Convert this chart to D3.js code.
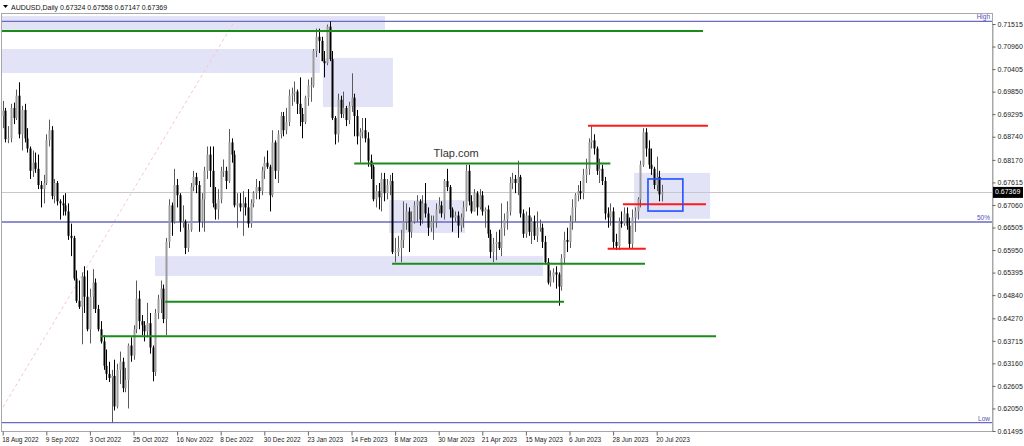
<!DOCTYPE html>
<html><head><meta charset="utf-8">
<script src="https://cdn.jsdelivr.net/npm/d3@7"></script>
<style>
html,body{margin:0;padding:0;background:#fff;overflow:hidden}
svg{display:block}
text{font-family:"Liberation Sans",Arial,sans-serif}
</style>
</head><body><svg id="c" width="1024" height="446"></svg>
<script>
// ---- data (AUDUSD daily, bar index 0 = 18 Aug 2022) ----
const symbolTitle = "AUDUSD,Daily";
const opens=[.6925,.6938,.6868,.6870,.6945,.6920,.6975,.6880,.6940,.6870,
.6845,.6790,.6810,.6795,.6755,.6745,.6760,.6865,.6890,.6728,
.6760,.6715,.6710,.6705,.6690,.6630,.6625,.6525,.6470,.6455,
.6530,.6480,.6400,.6480,.6515,.6450,.6400,.6370,.6310,.6290,
.6280,.6285,.6210,.6300,.6320,.6255,.6275,.6360,.6335,.6400,
.6475,.6420,.6410,.6395,.6415,.6355,.6295,.6440,.6475,.6500,
.6425,.6615,.6705,.6665,.6755,.6730,.6665,.6665,.6600,.6645,
.6750,.6775,.6755,.6665,.6720,.6790,.6830,.6790,.6710,.6695,
.6720,.6790,.6790,.6765,.6860,.6830,.6705,.6710,.6700,.6710,
.6700,.6660,.6710,.6735,.6750,.6740,.6790,.6810,.6800,.6730,
.6860,.6790,.6880,.6925,.6890,.6910,.6975,.6980,.6985,.6955,
.6930,.6910,.6970,.7000,.7000,.7085,.7120,.7110,.7060,.7055,
.7145,.7065,.6920,.6880,.6965,.6930,.6945,.6915,.6950,.6970,
.6925,.6875,.6885,.6890,.6870,.6815,.6800,.6720,.6740,.6725,
.6770,.6735,.6755,.6765,.6590,.6590,.6600,.6620,.6665,.6690,
.6640,.6665,.6705,.6715,.6670,.6710,.6685,.6650,.6665,.6665,
.6695,.6705,.6685,.6765,.6750,.6695,.6675,.6680,.6655,.6675,
.6700,.6790,.6715,.6690,.6735,.6700,.6730,.6690,.6695,.6635,
.6590,.6610,.6615,.6600,.6650,.6670,.6690,.6760,.6770,.6760,
.6775,.6685,.6635,.6680,.6640,.6665,.6630,.6650,.6650,.6615,
.6565,.6515,.6530,.6540,.6535,.6505,.6575,.6620,.6615,.6665,
.6700,.6730,.6740,.6735,.6780,.6795,.6860,.6865,.6845,.6790,
.6795,.6765,.6685,.6675,.6690,.6615,.6605,.6665,.6660,.6685,
.6655,.6610,.6675,.6690,.6720,.6805,.6885,.6845,.6805,.6795,
.6755,.6775,.67324];
const highs=[.6962,.6945,.6900,.6955,.6958,.6990,.7008,.6950,.6955,.6895,
.6850,.6840,.6835,.6830,.6765,.6780,.6880,.6916,.6900,.6770,
.6765,.6720,.6730,.6735,.6710,.6660,.6630,.6545,.6520,.6540,
.6555,.6545,.6500,.6548,.6525,.6460,.6420,.6385,.6350,.6320,
.6300,.6325,.6315,.6345,.6330,.6305,.6365,.6380,.6410,.6520,
.6495,.6435,.6420,.6465,.6440,.6360,.6450,.6485,.6520,.6510,
.6625,.6720,.6712,.6795,.6770,.6735,.6705,.6670,.6660,.6760,
.6790,.6785,.6765,.6735,.6800,.6850,.6850,.6850,.6750,.6745,
.6800,.6818,.6800,.6893,.6870,.6840,.6735,.6735,.6740,.6725,
.6745,.6720,.6740,.6770,.6765,.6800,.6825,.6840,.6805,.6890,
.6865,.6890,.6935,.6935,.6945,.6990,.6995,.7010,.6990,.7020,
.6945,.6975,.7015,.7020,.7090,.7140,.7140,.7120,.7085,.7150,
.7158,.7085,.6925,.6980,.6975,.6985,.6950,.6960,.7030,.6980,
.6940,.6895,.6920,.6920,.6885,.6830,.6805,.6755,.6760,.6785,
.6785,.6770,.6780,.6785,.6625,.6630,.6645,.6715,.6710,.6700,
.6690,.6715,.6730,.6720,.6730,.6760,.6700,.6680,.6680,.6710,
.6725,.6715,.6770,.6795,.6755,.6700,.6690,.6690,.6685,.6715,
.6805,.6805,.6730,.6745,.6740,.6745,.6740,.6700,.6705,.6645,
.6625,.6640,.6645,.6710,.6685,.6715,.6775,.6785,.6780,.6815,
.6780,.6695,.6690,.6700,.6675,.6680,.6690,.6670,.6660,.6630,
.6575,.6545,.6550,.6555,.6540,.6585,.6640,.6650,.6680,.6720,
.6735,.6755,.6765,.6795,.6820,.6870,.6900,.6880,.6850,.6820,
.6805,.6775,.6700,.6710,.6700,.6635,.6675,.6690,.6700,.6700,
.6675,.6695,.6700,.6725,.6815,.6895,.6895,.6865,.6845,.6800,
.6825,.6790,.67558];
const lows=[.6895,.6860,.6858,.6860,.6905,.6915,.6870,.6840,.6860,.6835,
.6770,.6775,.6785,.6745,.6700,.6710,.6755,.6850,.6720,.6710,
.6705,.6670,.6680,.6680,.6620,.6580,.6520,.6465,.6450,.6363,
.6440,.6395,.6365,.6450,.6440,.6395,.6365,.6300,.6275,.6270,
.6170,.6200,.6205,.6265,.6245,.6245,.6205,.6320,.6325,.6390,
.6400,.6385,.6370,.6380,.6340,.6272,.6285,.6425,.6440,.6415,
.6385,.6600,.6630,.6660,.6700,.6640,.6650,.6585,.6590,.6640,
.6740,.6735,.6640,.6650,.6640,.6770,.6750,.6700,.6670,.6670,
.6710,.6775,.6745,.6760,.6810,.6700,.6650,.6690,.6630,.6680,
.6650,.6650,.6700,.6720,.6720,.6730,.6770,.6795,.6690,.6725,
.6770,.6760,.6870,.6875,.6880,.6900,.6950,.6960,.6930,.6900,
.6870,.6905,.6950,.6960,.6995,.7070,.7080,.7060,.7020,.7050,
.7060,.6915,.6855,.6860,.6920,.6920,.6900,.6905,.6935,.6875,
.6855,.6810,.6870,.6860,.6800,.6770,.6715,.6700,.6695,.6690,
.6715,.6720,.6730,.6585,.6565,.6580,.6565,.6600,.6645,.6590,
.6625,.6660,.6665,.6655,.6660,.6675,.6630,.6640,.6620,.6650,
.6685,.6675,.6670,.6740,.6675,.6640,.6665,.6625,.6640,.6650,
.6690,.6705,.6685,.6690,.6680,.6695,.6680,.6650,.6625,.6575,
.6565,.6570,.6595,.6580,.6630,.6645,.6680,.6745,.6735,.6730,
.6675,.6625,.6625,.6630,.6610,.6620,.6615,.6640,.6600,.6560,
.6510,.6505,.6515,.6500,.6458,.6495,.6560,.6590,.6600,.6645,
.6665,.6715,.6720,.6720,.6760,.6780,.6845,.6830,.6780,.6760,
.6755,.6670,.6650,.6655,.6600,.6595,.6595,.6650,.6655,.6645,
.6600,.6600,.6640,.6670,.6700,.6800,.6825,.6795,.6780,.6745,
.6740,.6715,.67147];
const closes=[.6938,.6868,.6870,.6945,.6920,.6975,.6880,.6940,.6870,.6845,
.6790,.6810,.6795,.6755,.6745,.6760,.6865,.6890,.6728,.6760,
.6715,.6710,.6705,.6690,.6630,.6625,.6525,.6470,.6455,.6530,
.6480,.6400,.6480,.6515,.6450,.6400,.6370,.6310,.6290,.6280,
.6285,.6210,.6300,.6320,.6255,.6275,.6360,.6335,.6400,.6475,
.6420,.6410,.6395,.6415,.6355,.6295,.6440,.6475,.6500,.6425,
.6615,.6705,.6665,.6755,.6730,.6665,.6665,.6600,.6645,.6750,
.6775,.6755,.6665,.6720,.6790,.6830,.6790,.6710,.6695,.6720,
.6790,.6790,.6765,.6860,.6830,.6705,.6710,.6700,.6710,.6700,
.6660,.6710,.6735,.6750,.6740,.6790,.6810,.6800,.6730,.6860,
.6790,.6880,.6925,.6890,.6910,.6975,.6980,.6985,.6955,.6930,
.6910,.6970,.7000,.7000,.7085,.7120,.7110,.7060,.7055,.7145,
.7065,.6920,.6880,.6965,.6930,.6945,.6915,.6950,.6970,.6925,
.6875,.6885,.6890,.6870,.6815,.6800,.6720,.6740,.6725,.6770,
.6735,.6755,.6765,.6590,.6590,.6600,.6620,.6665,.6690,.6640,
.6665,.6705,.6715,.6670,.6710,.6685,.6650,.6665,.6665,.6695,
.6705,.6685,.6765,.6750,.6695,.6675,.6680,.6655,.6675,.6700,
.6790,.6715,.6690,.6735,.6700,.6730,.6690,.6695,.6635,.6590,
.6610,.6615,.6600,.6650,.6670,.6690,.6760,.6770,.6760,.6775,
.6685,.6635,.6680,.6640,.6665,.6630,.6650,.6650,.6615,.6565,
.6515,.6530,.6540,.6535,.6505,.6575,.6620,.6615,.6665,.6700,
.6730,.6740,.6735,.6780,.6795,.6860,.6865,.6845,.6790,.6795,
.6765,.6685,.6675,.6690,.6615,.6605,.6665,.6660,.6685,.6655,
.6610,.6675,.6690,.6720,.6805,.6885,.6845,.6805,.6795,.6755,
.6775,.6732,.67369];
const lastOHLC=[0.67324,0.67558,0.67147,0.67369];

const priceTicks=[0.71515,0.70960,0.70405,0.69850,0.69295,0.68740,0.68170,0.67615,0.67060,0.66505,0.65950,0.65395,0.64840,0.64270,0.63715,0.63160,0.62605,0.62050,0.61495];
const timeTickIdx=[0,16,32,48,64,80,96,112,128,144,160,176,192,208,224,240];
const timeTickLabels=["18 Aug 2022","9 Sep 2022","3 Oct 2022","25 Oct 2022","16 Nov 2022","8 Dec 2022","30 Dec 2022","23 Jan 2023","14 Feb 2023","8 Mar 2023","30 Mar 2023","21 Apr 2023","15 May 2023","6 Jun 2023","28 Jun 2023","20 Jul 2023"];

// drawn objects (bar index, price)
const fiboLevels=[{name:"High",p:0.7158},{name:"50%",p:0.6664},{name:"Low",p:0.6170}];
const zoneRects=[{i0:-2,i1:140.3,p0:0.7171,p1:0.7137},{i0:-2,i1:116.4,p0:0.7090,p1:0.7031},{i0:117.5,i1:143.2,p0:0.7068,p1:0.6947},{i0:141.8,i1:169.7,p0:0.6718,p1:0.6637},{i0:55.9,i1:198.3,p0:0.6580,p1:0.6531},{i0:231.7,i1:259.6,p0:0.6785,p1:0.6672}];
const blueBox={i0:236.8,i1:249.6,p0:0.6770,p1:0.6691};
const greenLines=[{i0:-2,i1:257,p:0.7134},{i0:129,i1:223,p:0.6808},{i0:142.9,i1:235.7,p:0.6561},{i0:59.6,i1:206,p:0.6468},{i0:36,i1:261.8,p:0.6383}];
const redLines=[{i0:214.8,i1:258.8,p:0.6901},{i0:227.6,i1:258.1,p:0.6708},{i0:222,i1:236,p:0.6598}];
const fiboTrend={i0:-1,p0:0.6196,i1:85.2,p1:0.7160};
const watermark={text:"Tlap.com",i:166.4,p:0.6832};

// ---- layout ----
const svg=d3.select("#c");
const L=1,R=992,T=13,B=431;
const x=d3.scaleLinear().domain([0,240]).range([2.7,656.7]);
const y=d3.scaleLinear().domain([0.61495,0.71515]).range([431,24]);

svg.append("defs").append("clipPath").attr("id","clip").append("rect")
  .attr("x",L).attr("y",T).attr("width",R-L).attr("height",B-T);
const plot=svg.append("g").attr("clip-path","url(#clip)");

// background zones
plot.selectAll("rect.zone").data(zoneRects).join("rect").attr("class","zone")
  .attr("x",d=>x(d.i0)).attr("width",d=>x(d.i1)-x(d.i0))
  .attr("y",d=>y(d.p0)).attr("height",d=>y(d.p1)-y(d.p0))
  .attr("fill","#e3e3f7");

// fibo diagonal
plot.append("line").attr("x1",x(fiboTrend.i0)).attr("y1",y(fiboTrend.p0))
  .attr("x2",x(fiboTrend.i1)).attr("y2",y(fiboTrend.p1))
  .attr("stroke","#f6c6c6").attr("stroke-width",1).attr("stroke-dasharray","3,3");

// current price line
plot.append("line").attr("x1",L).attr("x2",R).attr("y1",Math.round(y(lastOHLC[3]))+0.5).attr("y2",Math.round(y(lastOHLC[3]))+0.5)
  .attr("stroke","#c8c8c8").attr("stroke-width",1);

// fibo levels
plot.selectAll("line.fib").data(fiboLevels).join("line").attr("class","fib")
  .attr("x1",L).attr("x2",R).attr("y1",d=>y(d.p)).attr("y2",d=>y(d.p))
  .attr("stroke","#6a6ac0").attr("stroke-width",1.4);
svg.selectAll("text.fib").data(fiboLevels).join("text").attr("class","fib")
  .attr("x",990).attr("y",d=>y(d.p)-2).attr("text-anchor","end")
  .attr("font-size",6.5).attr("fill","#5050b8").text(d=>d.name);

// watermark text
plot.append("text").attr("x",x(watermark.i)).attr("y",y(watermark.p)).attr("text-anchor","middle")
  .attr("dominant-baseline","middle").attr("font-size",11).attr("fill","#333").text(watermark.text);

// candles
const n=closes.length;
const idx=d3.range(n);
const cg=plot.append("g");
cg.selectAll("line.wick").data(idx).join("line").attr("class","wick")
  .attr("x1",i=>Math.round(x(i))+0.5).attr("x2",i=>Math.round(x(i))+0.5)
  .attr("y1",i=>y(highs[i])).attr("y2",i=>y(lows[i]))
  .attr("stroke",i=>closes[i]>=opens[i]?"#5a5a5a":"#000").attr("stroke-width",1);
cg.selectAll("rect.body").data(idx).join("rect").attr("class","body")
  .attr("x",i=>Math.round(x(i))-0.5).attr("width",2)
  .attr("y",i=>y(Math.max(opens[i],closes[i])))
  .attr("height",i=>Math.max(1,Math.abs(y(opens[i])-y(closes[i]))))
  .attr("fill",i=>closes[i]>=opens[i]?"#9c9c9c":"#000");

// green & red lines
plot.selectAll("line.g").data(greenLines).join("line").attr("class","g")
  .attr("x1",d=>x(d.i0)).attr("x2",d=>x(d.i1)).attr("y1",d=>y(d.p)).attr("y2",d=>y(d.p))
  .attr("stroke","#1a8c1a").attr("stroke-width",2);
plot.selectAll("line.r").data(redLines).join("line").attr("class","r")
  .attr("x1",d=>x(d.i0)).attr("x2",d=>x(d.i1)).attr("y1",d=>y(d.p)).attr("y2",d=>y(d.p))
  .attr("stroke","#ff1a1a").attr("stroke-width",2);
plot.append("rect").attr("x",x(blueBox.i0)).attr("width",x(blueBox.i1)-x(blueBox.i0))
  .attr("y",y(blueBox.p0)).attr("height",y(blueBox.p1)-y(blueBox.p0))
  .attr("fill","none").attr("stroke","#2050ff").attr("stroke-width",1.6);

// frame
svg.append("rect").attr("x",L+0.5).attr("y",T+0.5).attr("width",R-L).attr("height",B-T)
  .attr("fill","none").attr("stroke","#a8a8a8").attr("stroke-width",1);

// right axis
const ra=svg.append("g").attr("transform",`translate(${R+0.5},0)`)
  .call(d3.axisRight(y).tickValues(priceTicks).tickSize(3).tickPadding(2).tickFormat(d3.format(".5f")));
ra.select(".domain").attr("stroke","#a8a8a8");
ra.selectAll(".tick line").attr("stroke","#666");
ra.selectAll("text").attr("font-size",7).attr("font-family","Liberation Sans, Arial, sans-serif").attr("fill","#222");

// current price tag
const cy=y(lastOHLC[3]);
svg.append("rect").attr("x",R+1).attr("y",cy-5.5).attr("width",30).attr("height",11).attr("fill","#000");
svg.append("text").attr("x",R+3).attr("y",cy).attr("dominant-baseline","middle")
  .attr("font-size",7).attr("fill","#fff").text(d3.format(".5f")(lastOHLC[3]));

// bottom axis
const ba=svg.append("g").attr("transform",`translate(0,${B+0.5})`)
  .call(d3.axisBottom(x).tickValues(timeTickIdx).tickSize(4).tickFormat((d,i)=>timeTickLabels[i]));
ba.select(".domain").remove();
ba.selectAll(".tick line").attr("stroke","#666");
ba.selectAll("text").attr("text-anchor","start").attr("dx",-1).attr("y",6)
  .attr("font-size",6.5).attr("font-family","Liberation Sans, Arial, sans-serif").attr("fill","#222");

// header
svg.append("path").attr("d","M3,5 L8,5 L5.5,8 Z").attr("fill","#000");
svg.append("text").attr("x",11).attr("y",9.5).attr("font-size",7).attr("fill","#111")
  .text(symbolTitle+"  "+lastOHLC.map(d3.format(".5f")).join(" "));
</script>
</body></html>
